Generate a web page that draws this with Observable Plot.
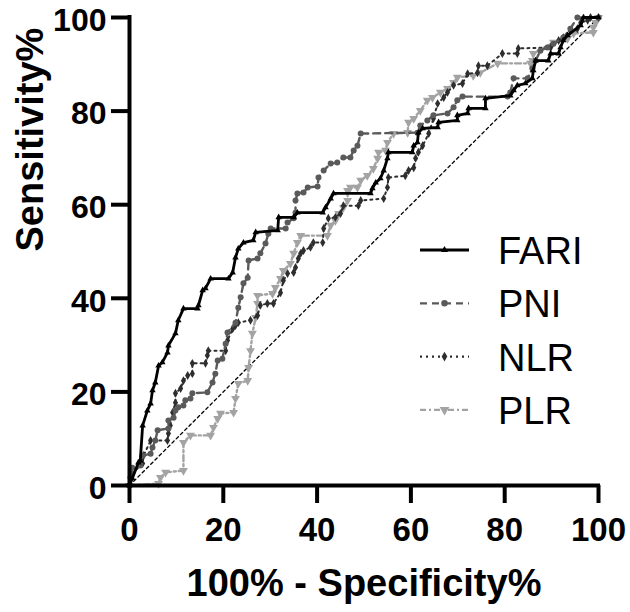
<!DOCTYPE html>
<html>
<head>
<meta charset="utf-8">
<script src="https://cdn.jsdelivr.net/npm/d3@7"></script>
<script src="https://cdn.jsdelivr.net/npm/@observablehq/plot@0.6"></script>
<style>
  html, body { margin: 0; padding: 0; background: #fff; }
  #wrap { position: relative; width: 630px; height: 612px; font-family: "Liberation Sans", Arial, sans-serif; }
  #legend { position: absolute; left: 0; top: 0; pointer-events: none; }
</style>
</head>
<body>
<div id="wrap"></div>
<script>
// ---- data ----
const seriesNames = ["FARI", "PNI", "NLR", "PLR"];
const xTicks = [0, 20, 40, 60, 80, 100];
const yTicks = [0, 20, 40, 60, 80, 100];
const xTitle = "100% - Specificity%";
const yTitle = "Sensitivity%";
const chanceX = [0, 100];
const chanceY = [0, 100];

const fariX = [0,0.6,1.9,2.3,2.8,3.8,4.5,4.9,5.5,6.2,7,8.1,8.3,9.8,10.4,11.5,14.5,14.7,15.6,16.2,17.3,21.1,22,22.6,23.2,24.3,26.4,26.9,31.6,31.8,35,35.8,41.2,41.8,42.9,43.5,51.4,51.8,52.5,53.5,54.2,55,55.2,60.3,60.6,61.4,61.6,62.5,65.7,65.9,69.9,69.9,72.1,72.3,75.9,75.9,81.2,81.9,82.7,84.4,85.9,86.1,86.6,89.3,89.8,91.5,91.9,92.5,93.4,96.2,96.8,100];
const fariY = [0,1.5,4.9,5.3,12.8,16,17.5,20.3,22,25.6,26.3,28.4,29.9,32.5,35.3,37.8,37.8,38.5,41.7,42.1,44.2,44.2,45.5,48.7,50.6,51.9,52.4,54.1,54.5,57.3,57.3,58.3,58.3,59.4,61.3,62.4,62.4,63.5,64.7,65.6,67.3,69.9,71.2,71.2,72.6,73.3,75.4,76.3,76.5,77.6,78,79.1,79.5,80.6,80.6,82.7,83.3,84.4,85.5,85.9,87,88.7,90.8,90.8,92.3,92.3,93.6,95.1,96.2,98.3,100,100];

const pniX = [0,0.2,0.6,2.3,2.8,4.5,4.9,5.5,6,8.3,8.3,9.4,9.8,10.4,11.5,11.9,13,13.4,16.6,17.7,18.3,18.8,19.8,20.5,20.9,22.6,23.2,23.7,24.3,25.2,25.4,27.3,27.9,29,29.6,30.1,33.3,33.7,35,35.4,35.4,35.8,37.1,38,40.1,40.3,41.4,42.9,44.3,45.6,47.1,47.8,48.6,49.3,61.4,62,63.5,64.8,67.8,69.1,69.9,71,80.6,81.2,81.9,84.9,85.9,86.6,87.6,89.1,90.4,92.5,94,95.5,100];
const pniY = [0,1.7,3.8,4.3,6.4,6.8,8.1,9.6,11.8,12.2,13.9,14.5,16,16.7,17.1,18.2,18.6,19.7,19.9,22,23.9,26.7,27.1,30.3,32.7,34.8,38,40.2,43.2,44.4,48.1,48.5,49.6,51.7,53.8,54.9,54.9,56.2,57.1,58.3,60.9,62.4,62.6,63.7,63.9,65.8,67.3,68.8,69,70.1,70.1,71.6,72.6,75.2,75.4,76.9,78,79.1,79.5,80.8,82.3,83.1,83.1,84,87,87,89.1,90.8,92.9,93.6,94.4,95.7,97.6,100,100];

const nlrX = [0,0.6,2.8,3,4.5,8.1,8.3,8.7,9.2,9.8,9.8,10.9,11.5,12.4,13.4,13.4,16.2,16.6,16.8,20.5,20.9,22,22.6,23.2,25.8,27.3,27.9,29.4,30.7,32.2,32.8,33.7,35,35.4,36,36.5,37.1,38.6,39.2,41.2,41.4,42.4,43.9,45,45.6,48.8,49.3,54.2,55,55.2,58.8,59.5,60.6,61,61.6,62.5,63.8,64.8,65.7,67,67.8,69.1,71,72.1,74.2,74.4,76.3,79.5,82.7,82.9,89.8,91.5,92.5,94,95.5,96.2,97.7,98.3,100];
const nlrY = [0,2.6,4.7,6.4,9.6,9.6,11.1,12.8,15.6,17.7,19.7,20.7,22.4,23.5,23.9,26.1,26.1,27.8,28.8,28.8,31,33.5,34.2,34.8,35.3,36.3,38.5,38.9,38.9,41.2,43.8,45.3,45.5,46.6,48.5,49.6,50.2,50.9,51.9,51.9,54.9,57.1,57.3,58.1,59.8,59.8,60.9,61.3,63.7,65.8,66.2,67.3,67.9,69.9,71.2,72.6,75.2,78.4,81.6,82.9,84,85.5,85.9,88,88.2,89.7,89.7,92.3,92.3,93.4,93.6,95.1,95.7,97.2,97.6,98.9,99.4,100,100];

const plrX = [0,6.2,6.6,7.7,11.5,11.5,13,17.3,17.9,18.8,19.4,22.2,22.6,23.2,25.2,25.4,25.8,26.2,26.9,27.3,27.3,30.5,31.1,32.2,32.8,34.3,35,35.8,36.5,42.2,42.9,43.9,44.6,45.6,46.5,46.5,47.1,48.6,49.3,50.7,52,52.9,53.1,54.6,55,56.3,59.3,59.5,60.6,62,63.5,64.6,66.3,67.8,69.1,69.9,73.3,74.8,78.5,85.5,85.9,86.1,90.4,93.4,94.7,98.9,98.9,99.4,100];
const plrY = [0,0.4,1.7,2.8,3.2,9.2,10.7,10.7,12.4,14.3,15.4,15.6,18.6,21.8,22.4,25.2,28.8,32.5,35.9,38.9,40.6,41,42.3,44.2,45.9,47.4,49.6,51.9,53.4,53.4,55.6,56.6,58.1,59.4,60.9,63,63.7,63.7,65.2,66.2,67.7,69.9,71.2,71.6,73.3,75.2,75.4,77.6,78.4,80.1,82.3,82.9,84,84.8,86.1,87.2,87.6,88.2,90.2,90.2,90.8,92.3,94.7,95.5,96.6,96.8,97.9,98.9,100];

// ---- styles ----
const styles = {
  FARI: {color: "#000000", width: 2.8, dash: null, symbol: "triangle", r: 2.4, rotate: 0},
  PNI:  {color: "#5a5a5a", width: 2.4, dash: "7,5", symbol: "circle", r: 3, rotate: 0},
  NLR:  {color: "#2e2e2e", width: 2.0, dash: "2,4", symbol: "diamond", r: 2.7, rotate: 0},
  PLR:  {color: "#a3a3a3", width: 2.4, dash: "6,3,2,3", symbol: "triangle", r: 3.3, rotate: 180}
};

const toRows = (xs, ys, name) => xs.map((x, i) => ({x, y: ys[i], name}));
const seriesData = {
  FARI: toRows(fariX, fariY, "FARI"),
  PNI: toRows(pniX, pniY, "PNI"),
  NLR: toRows(nlrX, nlrY, "NLR"),
  PLR: toRows(plrX, plrY, "PLR")
};
const chance = toRows(chanceX, chanceY, "chance");

const drawOrder = ["PLR", "NLR", "PNI", "FARI"];
const curveMarks = [];
for (const n of drawOrder) {
  const s = styles[n];
  curveMarks.push(Plot.line(seriesData[n], {x: "x", y: "y", stroke: s.color, strokeWidth: s.width, strokeDasharray: s.dash, strokeLinejoin: "miter"}));
  curveMarks.push(Plot.dot(seriesData[n], {x: "x", y: "y", symbol: s.symbol, r: s.r, rotate: s.rotate, fill: s.color, stroke: "none"}));
}

const chart = Plot.plot({
  width: 630,
  height: 612,
  marginLeft: 129,
  marginRight: 32,
  marginTop: 17,
  marginBottom: 127,
  x: {domain: [0, 100]},
  y: {domain: [0, 100]},
  style: {fontFamily: "'Liberation Sans', Arial, sans-serif", background: "#fff", color: "#000", overflow: "visible"},
  marks: [
    Plot.line(chance, {x: "x", y: "y", stroke: "#000", strokeWidth: 1.3, strokeDasharray: "3,3"}),
    ...curveMarks,
    Plot.axisX({ticks: xTicks, tickSize: 18, tickPadding: 14, fontSize: 33, fontWeight: "bold", strokeWidth: 4, label: null, tickFormat: d => String(d)}),
    // y ticks (lines only)
    Plot.axisY({ticks: yTicks, tickSize: 18, strokeWidth: 4, label: null, tickFormat: () => ""}),
    // y tick labels (text only, nudged down slightly)
    Plot.axisY({ticks: yTicks, tickSize: 0, tickPadding: 23, fontSize: 32, fontWeight: "bold", label: null, dy: 3, tickFormat: d => String(d)}),
    Plot.ruleX([0], {stroke: "#000", strokeWidth: 4, y1: 0, y2: 100, strokeLinecap: "square"}),
    Plot.ruleY([0], {stroke: "#000", strokeWidth: 4, x1: 0, x2: 100, strokeLinecap: "square"}),
    Plot.text([xTitle], {frameAnchor: "bottom", dy: 98, fontSize: 38, fontWeight: "bold", lineAnchor: "middle", fill: "#000"}),
    Plot.text([yTitle], {frameAnchor: "left", dx: -99, rotate: -90, fontSize: 38, fontWeight: "bold", lineAnchor: "middle", fill: "#000"})
  ]
});
document.getElementById("wrap").appendChild(chart);

// ---- legend overlay ----
const legendY0 = 250, legendStep = 53.3, lx1 = 420, lx2 = 469, tx = 498;
const leg = d3.select("#wrap").append("svg").attr("id", "legend").attr("width", 630).attr("height", 612);
seriesNames.forEach((n, i) => {
  const s = styles[n];
  const y = legendY0 + i * legendStep;
  const g = leg.append("g");
  g.append("line").attr("x1", lx1).attr("x2", lx2).attr("y1", y).attr("y2", y)
    .attr("stroke", s.color).attr("stroke-width", n === "FARI" ? 3 : 2.2)
    .attr("stroke-dasharray", s.dash);
  const sym = d3.symbol().type({triangle: d3.symbolTriangle, circle: d3.symbolCircle, diamond: d3.symbolDiamond}[s.symbol]).size(Math.PI * s.r * s.r * 1.2);
  g.append("path").attr("d", sym()).attr("fill", s.color)
    .attr("transform", `translate(${(lx1 + lx2) / 2},${y}) rotate(${s.rotate})`);
  g.append("text").attr("x", tx).attr("y", y + 14).text(n)
    .attr("font-size", 38).attr("font-family", "'Liberation Sans', Arial, sans-serif").attr("fill", "#000");
});
</script>
</body>
</html>
